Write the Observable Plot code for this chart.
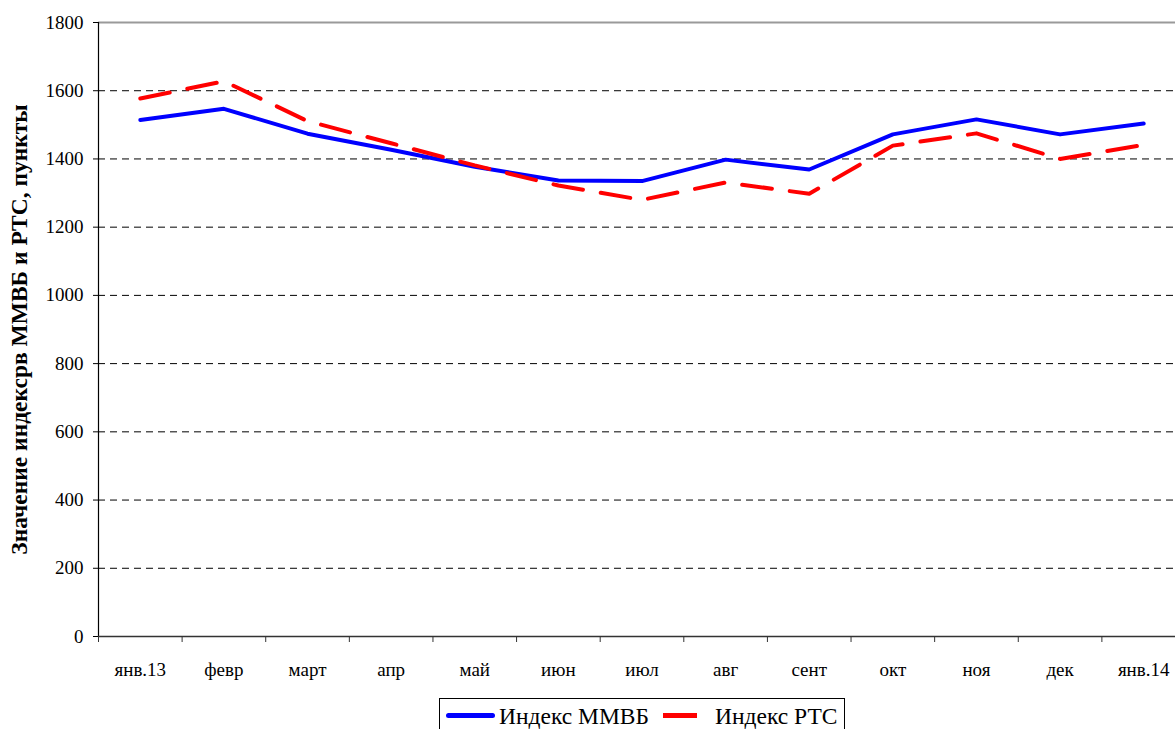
<!DOCTYPE html>
<html>
<head>
<meta charset="utf-8">
<script src="https://cdn.jsdelivr.net/npm/d3@7"></script>
<script src="https://cdn.jsdelivr.net/npm/@observablehq/plot@0.6"></script>
<style>
  html, body { margin: 0; padding: 0; background: #fff; overflow: hidden; }
  body { width: 1175px; height: 729px; position: relative; font-family: "Liberation Serif", "Times New Roman", serif; }
  #chart svg { display: block; }
  #legend {
    position: absolute; left: 439px; top: 698px; width: 406px; height: 40px;
    border: 1px solid #000; box-sizing: border-box; background: #fff;
    font-family: "Liberation Serif", serif; font-size: 23.5px; color: #000;
  }
  .item { position: absolute; top: 4px; line-height: 26px; white-space: nowrap; }
  .sw { position: absolute; height: 0; }
</style>
</head>
<body>
<div id="chart"></div>
<div id="legend"></div>
<script>
const months = ["янв.13","февр","март","апр","май","июн","июл","авг","сент","окт","ноя","дек","янв.14"];
const micex = [1514, 1547, 1474, 1427, 1377, 1337, 1335, 1398, 1369, 1472, 1516, 1472, 1504];
const rts   = [1577, 1628, 1511, 1446, 1381, 1322, 1280, 1331, 1298, 1439, 1475, 1400, 1441];
const seriesNames = ["Индекс ММВБ", "Индекс РТС"];
const yTicks = [0, 200, 400, 600, 800, 1000, 1200, 1400, 1600, 1800];
const yGrid = [200, 400, 600, 800, 1000, 1200, 1400, 1600];
const yTop = [1800];

const idx = d3.range(months.length);
const boundaries = d3.range(months.length + 1).map(i => i - 0.5);
const dataM = idx.map(i => ({i, v: micex[i]}));
const dataR = idx.map(i => ({i, v: rts[i]}));

const chart = Plot.plot({
  width: 1175,
  height: 695,
  marginLeft: 98,
  marginRight: -10,
  marginTop: 22,
  marginBottom: 59,
  style: {fontFamily: "Liberation Serif, serif", fontSize: "19px", color: "#000", background: "#fff", overflow: "visible"},
  x: {type: "linear", domain: [-0.5, months.length - 0.5]},
  y: {domain: [0, 1800]},
  marks: [
    Plot.ruleY(yGrid, {stroke: "#000", strokeWidth: 1, strokeDasharray: "7,5"}),
    Plot.ruleY(yTop, {stroke: "#9a9a9a", strokeWidth: 2}),
    Plot.line(dataM, {x: "i", y: "v", stroke: "#0000ff", strokeWidth: 4}),
    Plot.line(dataR, {x: "i", y: "v", stroke: "#ff0000", strokeWidth: 4, strokeDasharray: "30,18"}),
    Plot.ruleX([-0.5], {stroke: "#000", strokeWidth: 1.2}),
    Plot.ruleY([0], {stroke: "#333", strokeWidth: 1.5}),
    Plot.axisY({ticks: yTicks, tickSize: 5, tickPadding: 10, label: null, fontSize: 19, tickFormat: d => String(d)}),
    Plot.axisX({ticks: boundaries, tickSize: 6, tickFormat: () => "", label: null, stroke: "#333"}),
    Plot.axisX({ticks: idx, tickSize: 0, tickPadding: 26, tickFormat: i => months[i], label: null, fontSize: 19}),
    Plot.text(["Значение индексрв ММВБ и РТС, пункты"], {
      frameAnchor: "left", dx: -79, rotate: -90, fontWeight: "bold", fontSize: 23.5, textAnchor: "middle"
    })
  ]
});
document.getElementById("chart").appendChild(chart);

const legend = document.getElementById("legend");
legend.innerHTML = `
  <div class="sw" style="left:6px; top:14px; width:49px; border-top:5px solid #0000ff; border-radius:3px;"></div>
  <div class="item" style="left:59px;">${seriesNames[0]}</div>
  <div class="sw" style="left:223px; top:14px; width:34px; border-top:5px solid #ff0000;"></div>
  <div class="item" style="left:275px;">${seriesNames[1]}</div>
`;
</script>
</body>
</html>
